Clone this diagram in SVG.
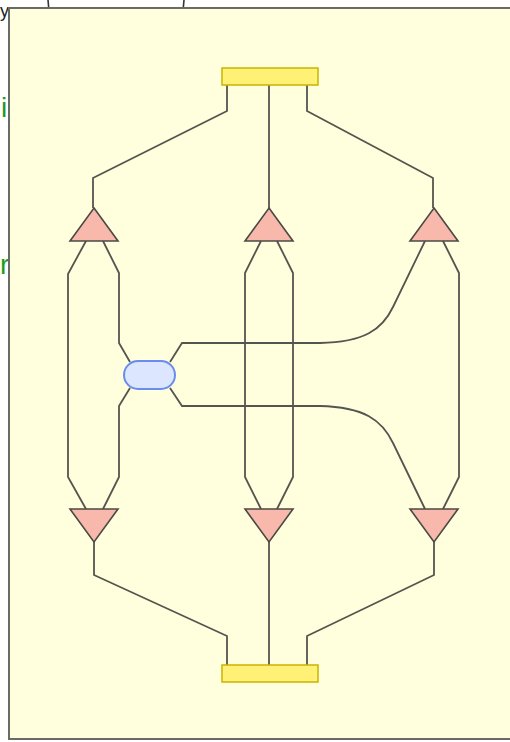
<svg xmlns="http://www.w3.org/2000/svg" width="510" height="742" viewBox="0 0 510 742">
  <style>
    .wire { fill: none; stroke: #555550; stroke-width: 1.8; stroke-linejoin: miter; }
    .bar { fill: #fff176; stroke: #c9b400; stroke-width: 1.5; }
    .tri { fill: #f8b8ac; stroke: #4a4a44; stroke-width: 1.6; stroke-linejoin: miter; }
    .hub { fill: #dce6ff; stroke: #6a8cf0; stroke-width: 2; }
    .side { font-family: "Liberation Sans", Arial, sans-serif; }
  </style>

  <rect x="0" y="0" width="510" height="742" fill="#ffffff"/>

  <!-- neighbouring page content, mostly hidden behind the panel -->
  <rect x="48" y="-40" width="136" height="80" rx="40" fill="#ffffff" stroke="#333333" stroke-width="1.6"/>
  <text class="side" x="0" y="17" font-size="18" fill="#222222">y</text>
  <text class="side" x="1" y="117" font-size="28" fill="#1e9a1e">i</text>
  <text class="side" x="0" y="274" font-size="28" fill="#1e9a1e">r</text>

  <!-- panel -->
  <rect x="9" y="8" width="530" height="731" fill="#ffffde" stroke="#6a6a66" stroke-width="2"/>

  <g id="connectors">
    <!-- top bar to upper triangles -->
    <path class="wire" d="M227,85 V111 L93,178 V208"/>
    <path class="wire" d="M269,85 V208"/>
    <path class="wire" d="M307,85 V111 L433,178 V208"/>
    <!-- lower triangles to bottom bar -->
    <path class="wire" d="M94,542 V575 L227,636 V665"/>
    <path class="wire" d="M269,542 V665"/>
    <path class="wire" d="M434,542 V575 L307,636 V665"/>
    <!-- left pair -->
    <path class="wire" d="M86,241 L68,274 V477 L86,509"/>
    <path class="wire" d="M103,241 L119,273 V343 L130,362"/>
    <path class="wire" d="M130,388 L119,406 V477 L103,509"/>
    <!-- middle pair -->
    <path class="wire" d="M261,241 L245,273 V477 L261,509"/>
    <path class="wire" d="M277,241 L293,273 V477 L277,509"/>
    <!-- right pair -->
    <path class="wire" d="M443,241 L459,273 V477 L443,509"/>
    <!-- hub to right pair -->
    <path class="wire" d="M170,362 L182,343 H320 C364,342 382,330 393,307 L425,241"/>
    <path class="wire" d="M170,388 L182,406 H320 C364,407 382,420 393,443 L425,509"/>
  </g>

  <g id="top-bar"><rect class="bar" x="222" y="68" width="96" height="17"/></g>
  <g id="bottom-bar"><rect class="bar" x="222" y="665" width="96" height="17"/></g>

  <g id="tri-top-left"><polygon class="tri" points="94,208 118,241 70,241"/></g>
  <g id="tri-top-mid"><polygon class="tri" points="269,208 293,241 245,241"/></g>
  <g id="tri-top-right"><polygon class="tri" points="434,208 458,241 410,241"/></g>

  <g id="tri-bot-left"><polygon class="tri" points="70,509 118,509 94,542"/></g>
  <g id="tri-bot-mid"><polygon class="tri" points="245,509 293,509 269,542"/></g>
  <g id="tri-bot-right"><polygon class="tri" points="410,509 458,509 434,542"/></g>

  <g id="hub"><rect class="hub" x="124" y="361" width="51" height="28" rx="14"/></g>
</svg>
